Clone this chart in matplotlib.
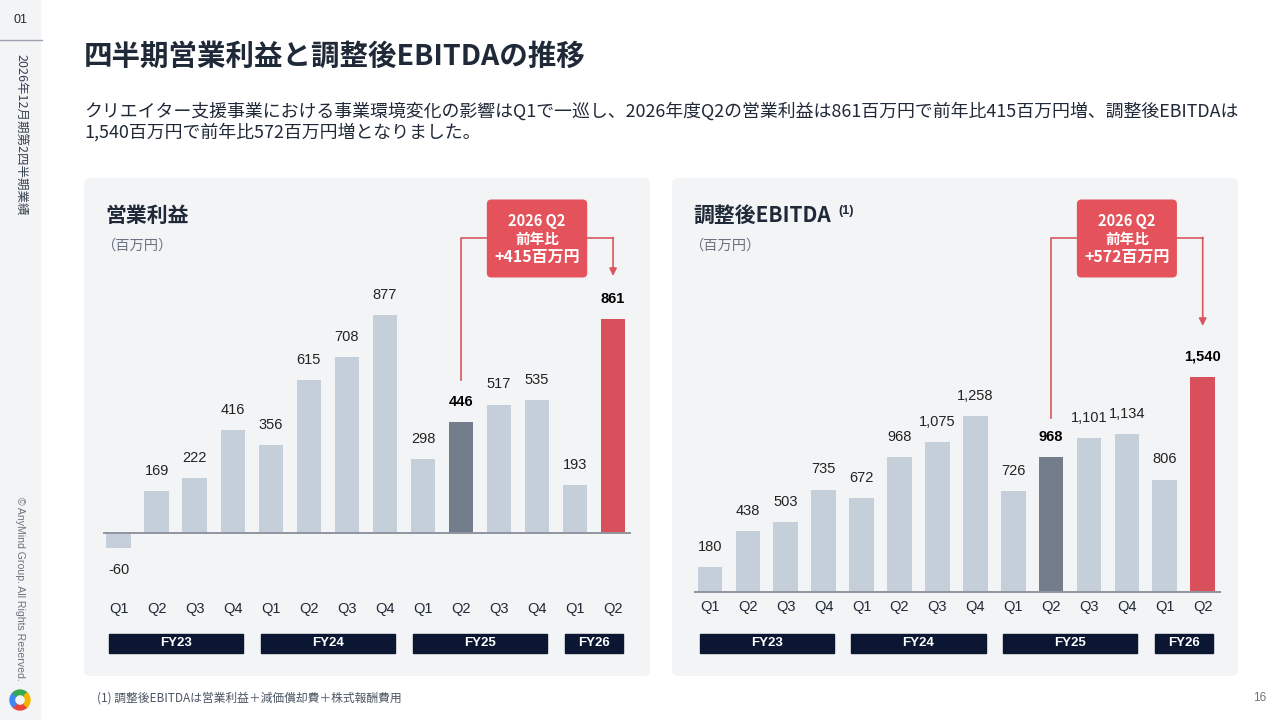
import matplotlib
matplotlib.use("Agg")
import matplotlib.pyplot as plt
import matplotlib.transforms as mtransforms
from matplotlib.patches import FancyBboxPatch, Rectangle, Wedge

plt.rcParams['font.family'] = ['Noto Sans CJK JP', 'DejaVu Sans']

# data
quarters = ['Q1', 'Q2', 'Q3', 'Q4', 'Q1', 'Q2', 'Q3', 'Q4', 'Q1', 'Q2', 'Q3', 'Q4', 'Q1', 'Q2']
fiscal_years = ['FY23', 'FY24', 'FY25', 'FY26']
fy_quarter_counts = [4, 4, 4, 2]
op_income = [-60, 169, 222, 416, 356, 615, 708, 877, 298, 446, 517, 535, 193, 861]
adj_ebitda = [180, 438, 503, 735, 672, 968, 1075, 1258, 726, 968, 1101, 1134, 806, 1540]
prev_year_idx = 9
current_idx = 13

title = '四半期営業利益と調整後EBITDAの推移'
subtitle = ('クリエイター支援事業における事業環境変化の影響はQ1で一巡し、2026年度Q2の営業利益は861百万円で前年比415百万円増、調整後EBITDAは\n'
            '1,540百万円で前年比572百万円増となりました。')
footnote = '(1) 調整後EBITDAは営業利益＋減価償却費＋株式報酬費用'

LIGHT = '#c5cfd9'
DARK = '#737d8b'
RED = '#d8505c'
CALLOUT = '#e4535c'
NAVY = '#0b1633'
PANEL = '#f3f4f6'
TEXT = '#1f2937'
NUM_FONT = ['Liberation Sans', 'DejaVu Sans']

W, H = 1280, 720
fig = plt.figure(figsize=(12.8, 7.2), dpi=100)
fig.patch.set_facecolor('white')

# background axes in pixel coordinates (y from top)
bg = fig.add_axes([0, 0, 1, 1])
bg.set_xlim(0, W)
bg.set_ylim(H, 0)
bg.axis('off')

# sidebar
bg.add_patch(Rectangle((0, 0), 40, H, color=PANEL, zorder=0))
bg.plot([0, 42], [40, 40], color='#9ca3af', lw=1)
bg.text(20, 20, '01', ha='center', va='center', fontsize=9, color=TEXT, family=NUM_FONT)
bg.text(20, 54, '2026年12月期第2四半期業績', rotation=270, ha='center', va='top',
        fontsize=9, color='#374151')
bg.text(20, 497, '© AnyMind Group. All Rights Reserved.', rotation=270, ha='center', va='top',
        fontsize=7.6, color='#6b7280', family=NUM_FONT)
for start, col in [(45, '#e8453c'), (135, '#4285f4'), (225, '#34a853'), (315, '#f4b400')]:
    bg.add_patch(Wedge((20, 700), 10, start, start + 90, width=4.5, color=col))

# header
bg.text(84, 57, title, fontsize=20.5, fontweight='bold', color=TEXT, va='center')
bg.text(84, 102, subtitle, fontsize=12.9, color=TEXT, va='top', linespacing=1.2)
bg.text(97, 698, footnote, fontsize=8.5, color='#4b5563', va='center')
bg.text(1260, 698, '16', fontsize=8.5, color='#6b7280', va='center', ha='center', family=NUM_FONT)

# panels
for px in (84, 672):
    bg.add_patch(FancyBboxPatch((px, 178), 566, 498, boxstyle='round,pad=0,rounding_size=6',
                                facecolor=PANEL, edgecolor='none', zorder=0))


def chart(values, px_left, px_right, x0, dx, zero, scale, q_y, panel_title, sup,
          line_bottom, arrow_tip, title_x):
    top, bottom = 185, 670
    ax = fig.add_axes([px_left / W, 1 - bottom / H, (px_right - px_left) / W, (bottom - top) / H])
    ax.set_xlim((px_left - x0) / dx, (px_right - x0) / dx)
    ax.set_ylim(-(bottom - zero) / scale, (zero - top) / scale)
    ax.axis('off')
    ax.patch.set_alpha(0)
    blend = mtransforms.blended_transform_factory(ax.transData, bg.transData)

    n = len(values)
    colors = [LIGHT] * n
    colors[prev_year_idx] = DARK
    colors[current_idx] = RED
    xs = list(range(n))
    ax.bar(xs, values, width=0.65, color=colors, zorder=2)
    ax.plot([-0.4, n - 1 + 0.45], [0, 0], color='#8e959e', lw=1.4, zorder=3, clip_on=False)

    for i, v in enumerate(values):
        bold = i in (prev_year_idx, current_idx)
        ax.annotate(f'{v:,}', (i, v), xytext=(0, 14.5 if v >= 0 else -15.5),
                    textcoords='offset points', ha='center', va='center',
                    fontsize=10.5, family=NUM_FONT, color='black' if bold else '#222222',
                    fontweight='bold' if bold else 'normal')
        ax.text(i, q_y, quarters[i], transform=blend, ha='center', va='center',
                fontsize=10.5, family=NUM_FONT, color=TEXT)

    start = 0
    for fy, cnt in zip(fiscal_years, fy_quarter_counts):
        center = start + (cnt - 1) / 2
        wdt = cnt - 1 + 0.54
        ax.add_patch(Rectangle((center - wdt / 2, 633.5), wdt, 19.5, transform=blend,
                               color=NAVY, clip_on=False))
        ax.text(center, 643.5, fy, transform=blend, ha='center', va='center', color='white',
                fontsize=9.5, fontweight='bold', family=NUM_FONT)
        start += cnt

    # callout
    mid = (prev_year_idx + current_idx) / 2
    bw = 2.64
    ax.add_patch(FancyBboxPatch((mid - bw / 2, 199.5), bw, 78, transform=blend,
                                boxstyle='round,pad=0,rounding_size=0.12', mutation_aspect=dx,
                                facecolor=CALLOUT, edgecolor='none', clip_on=False, zorder=4))
    diff = values[current_idx] - values[prev_year_idx]
    ax.text(mid, 221, '2026 Q2', transform=blend, ha='center', va='center', color='white',
            fontsize=10.5, fontweight='bold', zorder=5)
    ax.text(mid, 239, '前年比', transform=blend, ha='center', va='center', color='white',
            fontsize=10.5, fontweight='bold', zorder=5)
    ax.text(mid, 256.5, f'+{diff:,}百万円', transform=blend, ha='center', va='center',
            color='white', fontsize=11.5, fontweight='bold', zorder=5)
    lc = '#d9575f'
    ax.plot([prev_year_idx, prev_year_idx, mid - bw / 2], [line_bottom, 238, 238],
            transform=blend, color=lc, lw=1.2, clip_on=False)
    ax.plot([mid + bw / 2, current_idx], [238, 238], transform=blend, color=lc, lw=1.2,
            clip_on=False)
    ax.annotate('', xy=(current_idx, arrow_tip), xytext=(current_idx, 237.4),
                xycoords=blend, textcoords=blend,
                arrowprops=dict(arrowstyle='-|>', color=lc, lw=1.2, mutation_scale=11,
                                shrinkA=0, shrinkB=0))

    # panel title
    bg.text(title_x, 215, panel_title, fontsize=15, fontweight='bold', color=TEXT,
            va='center')
    if sup:
        bg.text(title_x + 145, 211, sup, fontsize=9, fontweight='bold', color=TEXT,
                va='center', family=NUM_FONT)
    bg.text(title_x - 4, 246, '（百万円）', fontsize=10.3, color='#6b7280', va='center')
    return ax


chart(op_income, 90, 640, 118.8, 38.02, 533.3, 0.249, 609, '営業利益', None, 380, 276, 105)
chart(adj_ebitda, 680, 1230, 710.0, 37.9, 592.3, 0.1398, 607, '調整後EBITDA', '(1)', 418, 326, 693)

fig.savefig('out.png', dpi=100)
